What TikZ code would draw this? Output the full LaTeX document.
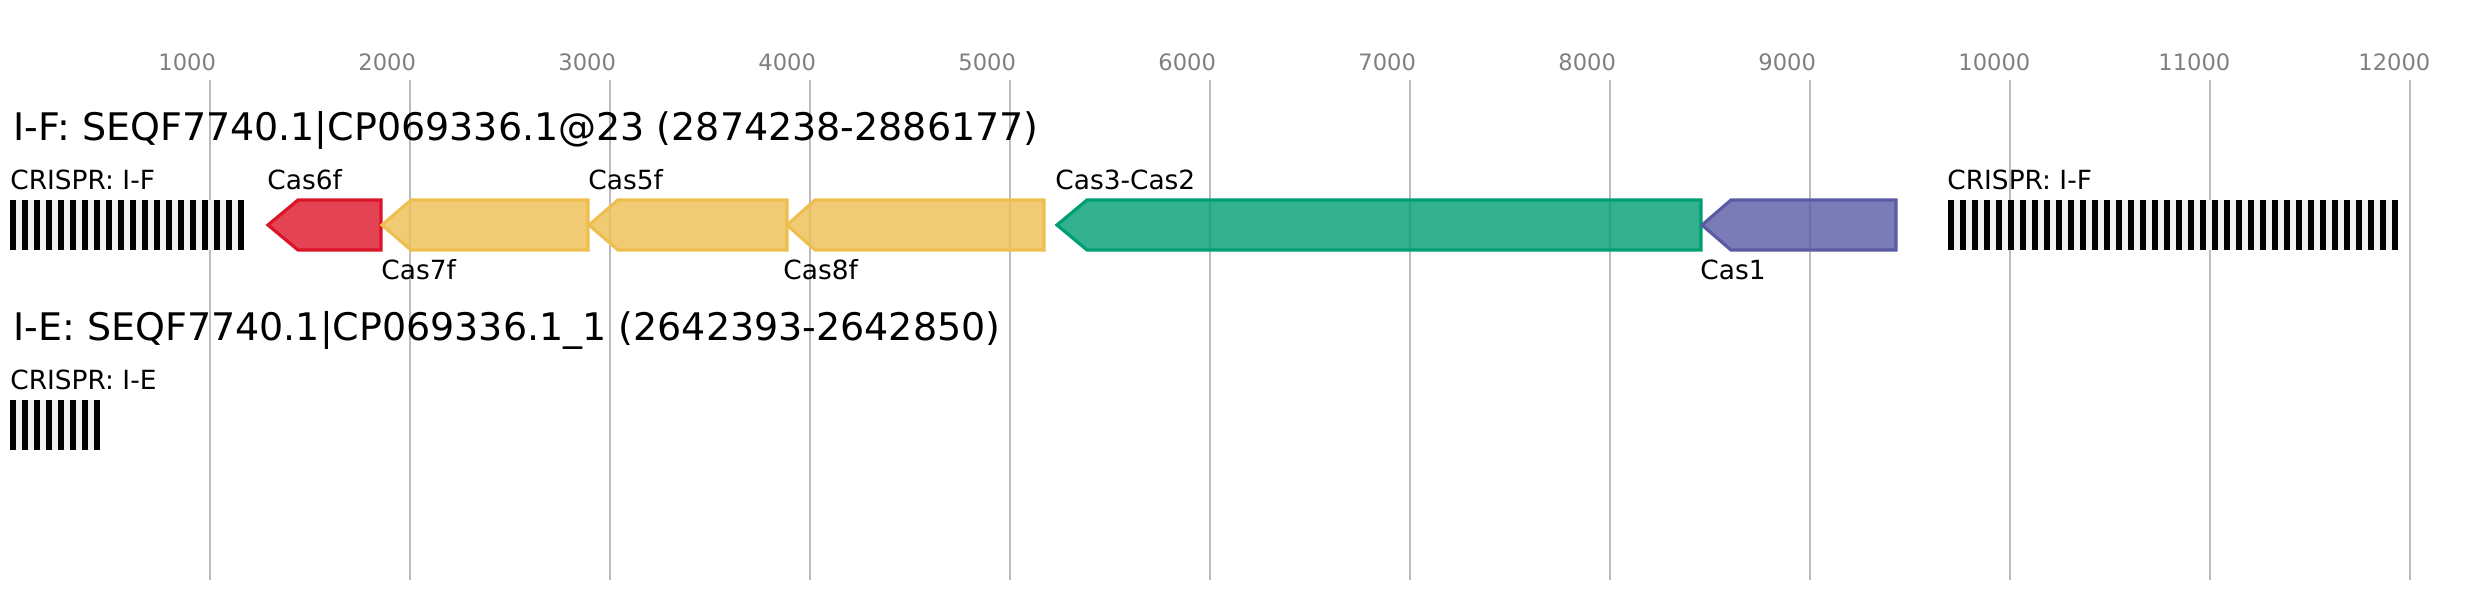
\documentclass[tikz,border=0pt]{standalone}
\usepackage{fontspec}
\setmainfont{DejaVu Sans}
\definecolor{gridc}{RGB}{188,188,188}
\definecolor{axisc}{RGB}{128,128,128}
\definecolor{redc}{RGB}{220,20,40}
\definecolor{yelc}{RGB}{238,190,80}
\definecolor{grnc}{RGB}{0,158,115}
\definecolor{purc}{RGB}{90,90,165}
\definecolor{spacerc}{RGB}{240,240,240}
\tikzset{
  gridline/.style={draw=gridc, line width=1pt},
  gene/.style={line width=1.6pt, fill opacity=0.8, line join=miter},
  titletext/.style={anchor=base west, font=\fontsize{19}{22}\selectfont, inner sep=0pt},
  lab/.style={anchor=base west, font=\fontsize{13.2}{15}\selectfont, inner sep=0pt},
  axlab/.style={anchor=base west, font=\fontsize{11.3}{13}\selectfont, text=axisc, inner sep=0pt},
  spacer/.style={fill=spacerc},
  repeatbar/.style={fill=black},
}
\newcommand\geneleft[5]{% name, tip, body, right, colour
  \draw[gene, draw=#5, fill=#5] (#2,225) coordinate (#1) -- (#3,200) -- (#4,200) -- (#4,250) -- (#3,250) -- cycle;}
\newcommand\crisprarray[4]{% name, x, y, count
  \fill[spacer] (#2,#3) rectangle ++({12*(#4-1)+6},50);
  \foreach \i in {1,...,#4} {\fill[repeatbar] ({#2+12*(\i-1)},#3) rectangle ++(6,50);}
  \coordinate (#1) at (#2,#3);}
\begin{document}
\begin{tikzpicture}[x=0.5pt,y=-0.5pt]
\useasboundingbox (0,0) rectangle (2488,600);
% grid and axis
\foreach \k in {1,...,12} {
  \draw[gridline] ({10+200*\k},80) -- ({10+200*\k},580);
  \node[axlab] (ax\k) at ({10+200*\k-52},70) {\the\numexpr\k*1000\relax};
}
% I-F locus
\node[titletext] (t1) at (13,140) {I-F: SEQF7740.1|CP069336.1@23 (2874238-2886177)};
\crisprarray{cr1}{10}{200}{20}
\node[lab] (cr1lab) at (10,189.5) {CRISPR: I-F};
\geneleft{cas6f}{268}{298}{381}{redc}
\geneleft{cas7f}{382}{411}{588}{yelc}
\geneleft{cas5f}{589}{618}{787}{yelc}
\geneleft{cas8f}{787}{815}{1044}{yelc}
\geneleft{cas3}{1057}{1087}{1701}{grnc}
\geneleft{cas1}{1702}{1731}{1896}{purc}
\node[lab] (l6) at (267,189.5) {Cas6f};
\node[lab] (l7) at (381,279) {Cas7f};
\node[lab] (l5) at (588,189.5) {Cas5f};
\node[lab] (l8) at (783,279) {Cas8f};
\node[lab] (l3) at (1055,189.5) {Cas3-Cas2};
\node[lab] (l1) at (1700,279) {Cas1};
\crisprarray{cr2}{1948}{200}{38}
\node[lab] (cr2lab) at (1947,189.5) {CRISPR: I-F};
% I-E locus
\node[titletext] (t2) at (13,340) {I-E: SEQF7740.1|CP069336.1\_1 (2642393-2642850)};
\crisprarray{cr3}{10}{400}{8}
\node[lab] (cr3lab) at (10,389) {CRISPR: I-E};
\end{tikzpicture}
\end{document}
